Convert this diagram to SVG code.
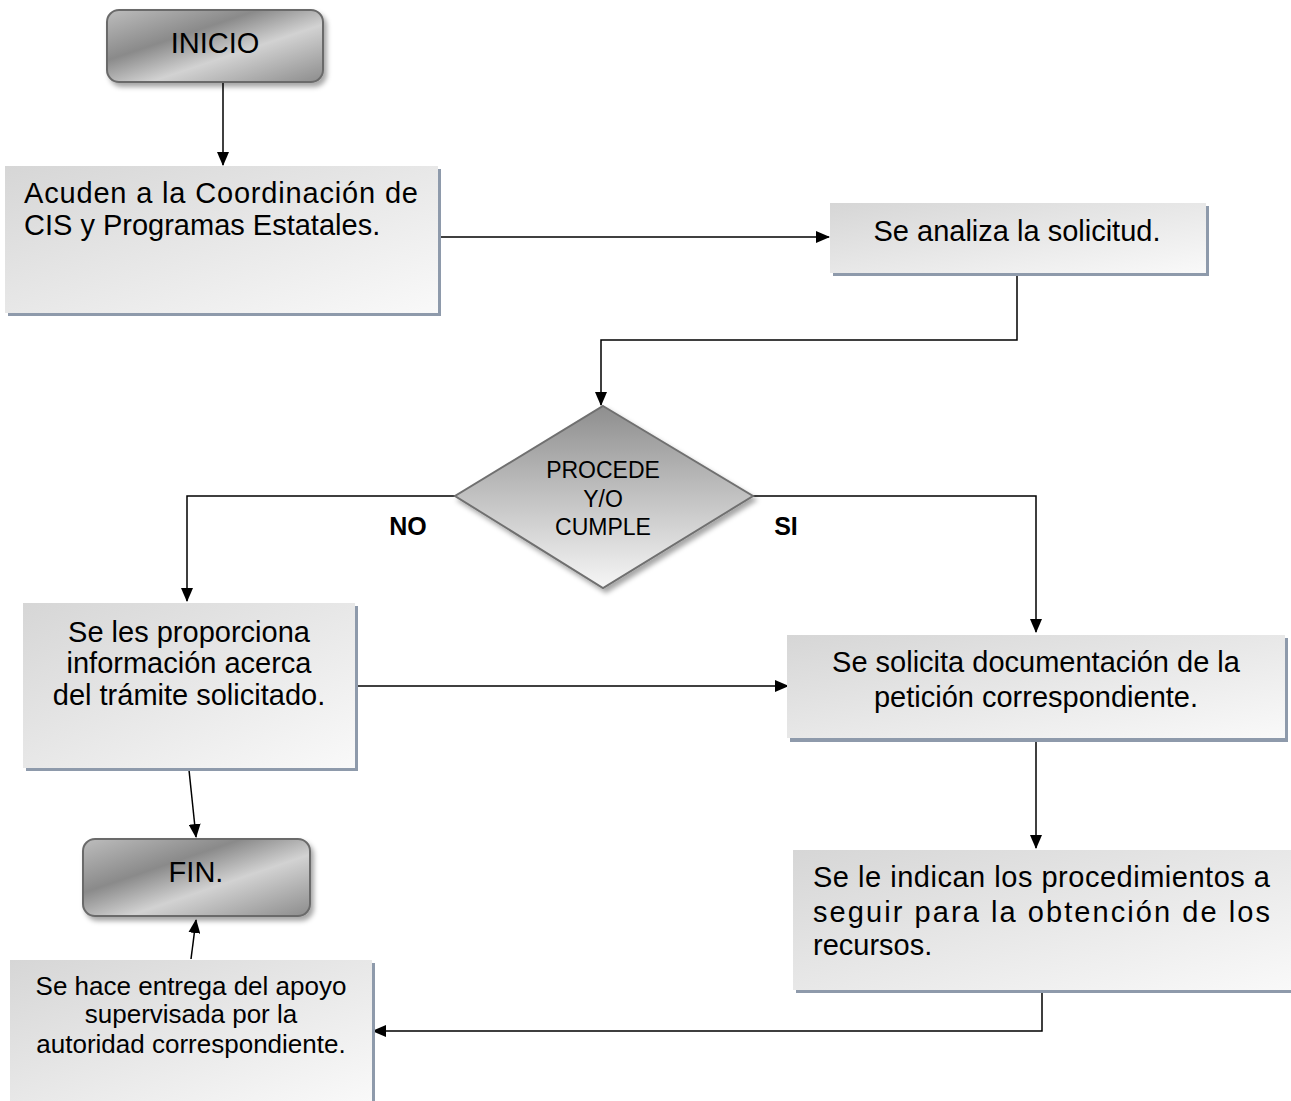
<svg xmlns="http://www.w3.org/2000/svg" width="1291" height="1101" viewBox="0 0 1291 1101">
<defs>
<linearGradient id="boxg" x1="0" y1="0" x2="1" y2="1">
<stop offset="0" stop-color="#d6d6d6"/>
<stop offset="1" stop-color="#f9f9f9"/>
</linearGradient>
<linearGradient id="termg" x1="0" y1="0" x2="1" y2="1">
<stop offset="0" stop-color="#bdbdbd"/>
<stop offset="0.35" stop-color="#8a8a8a"/>
<stop offset="0.6" stop-color="#d2d2d2"/>
<stop offset="1" stop-color="#8c8c8c"/>
</linearGradient>
<linearGradient id="diag" x1="0" y1="0" x2="0" y2="1">
<stop offset="0" stop-color="#8e8e8e"/>
<stop offset="1" stop-color="#f6f6f6"/>
</linearGradient>
<filter id="sh" x="-10%" y="-10%" width="130%" height="140%">
<feDropShadow dx="3" dy="4" stdDeviation="2.5" flood-color="#000" flood-opacity="0.35"/>
</filter>
<marker id="arr" markerWidth="14" markerHeight="12" refX="13" refY="6" orient="auto" markerUnits="userSpaceOnUse" viewBox="0 0 14 12">
<path d="M0,0 L14,6 L0,12 z" fill="#000"/>
</marker>
<style>
.t{font-family:"Liberation Sans",Arial,sans-serif;fill:#000}
.box{fill:url(#boxg)}
.shd{fill:#8e9aab}
.term{fill:url(#termg);stroke:#6b6b6b;stroke-width:2}
.c{fill:none;stroke:#000;stroke-width:1.5}
</style>
</defs>

<g id="connectors">
<line class="c" x1="223" y1="82" x2="223" y2="165" marker-end="url(#arr)"/>
<line class="c" x1="438" y1="237" x2="829" y2="237" marker-end="url(#arr)"/>
<polyline class="c" points="1017,273 1017,340 601,340 601,405" marker-end="url(#arr)"/>
<polyline class="c" points="455,496 187,496 187,601" marker-end="url(#arr)"/>
<polyline class="c" points="753,496 1036,496 1036,632" marker-end="url(#arr)"/>
<line class="c" x1="357" y1="686" x2="788" y2="686" marker-end="url(#arr)"/>
<line class="c" x1="1036" y1="740" x2="1036" y2="848" marker-end="url(#arr)"/>
<polyline class="c" points="1042,991 1042,1031 373,1031" marker-end="url(#arr)"/>
<line class="c" x1="189" y1="770" x2="196" y2="837" marker-end="url(#arr)"/>
<line class="c" x1="191" y1="959" x2="196" y2="920" marker-end="url(#arr)"/>
</g>

<g id="inicio">
<rect class="term" x="107" y="10" width="216" height="72" rx="12" filter="url(#sh)"/>
<text class="t" x="215" y="53" font-size="29" text-anchor="middle">INICIO</text>
</g>

<g id="acuden">
<rect class="shd" x="8" y="169" width="433" height="147"/>
<rect class="box" x="5" y="166" width="433" height="147"/>
<text class="t" x="24" y="203" font-size="29" textLength="394" lengthAdjust="spacing">Acuden a la Coordinación de</text>
<text class="t" x="24" y="235" font-size="29">CIS y Programas Estatales.</text>
</g>

<g id="analiza">
<rect class="shd" x="833" y="206" width="376" height="70"/>
<rect class="box" x="830" y="203" width="376" height="70"/>
<text class="t" x="1017" y="241" font-size="29" text-anchor="middle">Se analiza la solicitud.</text>
</g>

<g id="decision">
<polygon points="603,406 753,496 603,588 455,496" fill="url(#diag)" stroke="#707070" stroke-width="2" filter="url(#sh)"/>
<text class="t" x="603" y="478" font-size="23" text-anchor="middle">PROCEDE</text>
<text class="t" x="603" y="507" font-size="23" text-anchor="middle">Y/O</text>
<text class="t" x="603" y="535" font-size="23" text-anchor="middle">CUMPLE</text>
<text class="t" x="408" y="535" font-size="25" font-weight="bold" text-anchor="middle">NO</text>
<text class="t" x="786" y="535" font-size="25" font-weight="bold" text-anchor="middle">SI</text>
</g>

<g id="proporciona">
<rect class="shd" x="26" y="606" width="332" height="165"/>
<rect class="box" x="23" y="603" width="332" height="165"/>
<text class="t" x="189" y="642" font-size="29" text-anchor="middle">Se les proporciona</text>
<text class="t" x="189" y="673" font-size="29" text-anchor="middle">información acerca</text>
<text class="t" x="189" y="705" font-size="29" text-anchor="middle">del trámite solicitado.</text>
</g>

<g id="solicita">
<rect class="shd" x="790" y="638" width="498" height="104"/>
<rect class="box" x="787" y="635" width="498" height="103"/>
<text class="t" x="1036" y="672" font-size="29" text-anchor="middle">Se solicita documentación de la</text>
<text class="t" x="1036" y="707" font-size="29" text-anchor="middle">petición correspondiente.</text>
</g>

<g id="indican">
<rect class="shd" x="796" y="853" width="495" height="140"/>
<rect class="box" x="793" y="850" width="498" height="140"/>
<text class="t" x="813" y="887" font-size="29" textLength="457" lengthAdjust="spacing">Se le indican los procedimientos a</text>
<text class="t" x="813" y="922" font-size="29" textLength="457" lengthAdjust="spacing">seguir para la obtención de los</text>
<text class="t" x="813" y="955" font-size="29">recursos.</text>
</g>

<g id="fin">
<rect class="term" x="83" y="839" width="227" height="77" rx="12" filter="url(#sh)"/>
<text class="t" x="196" y="882" font-size="29" text-anchor="middle">FIN.</text>
</g>

<g id="entrega">
<rect class="shd" x="13" y="963" width="362" height="140"/>
<rect class="box" x="10" y="960" width="362" height="141"/>
<text class="t" x="191" y="995" font-size="26" text-anchor="middle">Se hace entrega del apoyo</text>
<text class="t" x="191" y="1023" font-size="26" text-anchor="middle">supervisada por la</text>
<text class="t" x="191" y="1053" font-size="26" text-anchor="middle">autoridad correspondiente.</text>
</g>
</svg>
